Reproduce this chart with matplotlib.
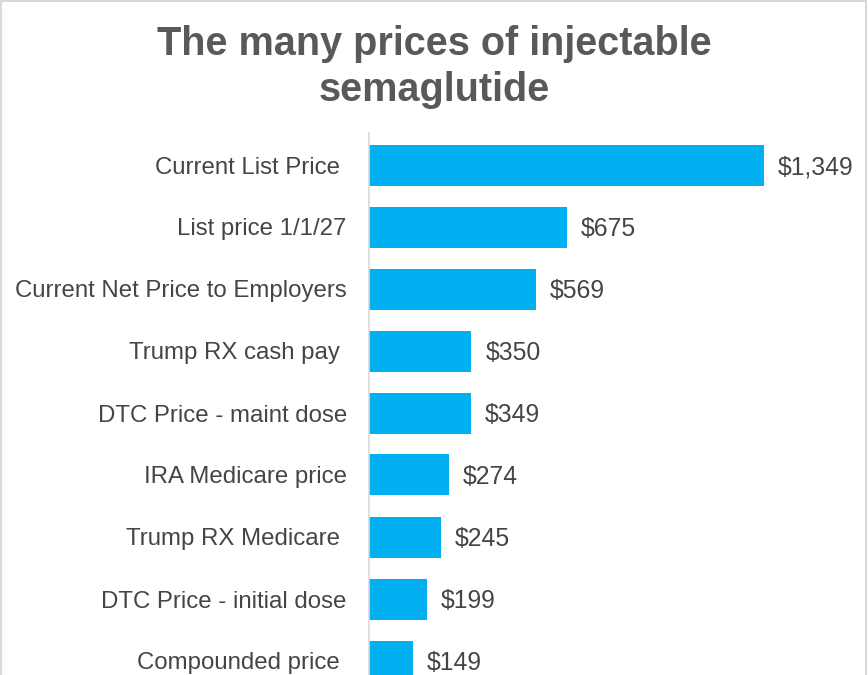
import matplotlib.pyplot as plt
from matplotlib.patches import Rectangle

# Chart data
categories = [
    "Current List Price ",
    "List price 1/1/27",
    "Current Net Price to Employers",
    "Trump RX cash pay ",
    "DTC Price - maint dose",
    "IRA Medicare price",
    "Trump RX Medicare ",
    "DTC Price - initial dose",
    "Compounded price ",
]
prices = [1349, 675, 569, 350, 349, 274, 245, 199, 149]
value_labels = ["$1,349", "$675", "$569", "$350", "$349", "$274", "$245", "$199", "$149"]
title = "The many prices of injectable\nsemaglutide"

bar_color = "#00B0F0"
text_color = "#454545"
title_color = "#595959"

plt.rcParams['font.family'] = ['Liberation Sans', 'DejaVu Sans']

W, H = 868, 675
fig = plt.figure(figsize=(W / 100, H / 100), dpi=100)

# axes in pixel terms: left edge at x=369, top at y=133, runs off the bottom
left_px, right_px, top_px = 369, 866, 133
ax = fig.add_axes([left_px / W, 0, (right_px - left_px) / W, 1 - top_px / H])

px_per_dollar = 395 / 1349
ax.set_xlim(0, (right_px - left_px) / px_per_dollar)
first_center, step = 165, 62
ax.set_ylim((H - first_center) / step, (top_px - first_center) / step)

y = list(range(len(categories)))
ax.barh(y, prices, height=41 / step, color=bar_color)

for yi, p, lab in zip(y, prices, value_labels):
    ax.annotate(lab, (p, yi), xytext=(10, -1.5), textcoords="offset points",
                va="center", ha="left", fontsize=17.8, color=text_color)

ax.set_yticks(y)
ax.set_yticklabels(categories, fontsize=17.3, color=text_color)
ax.tick_params(axis="y", length=0, pad=16)
ax.set_xticks([])

for s in ["top", "right", "bottom"]:
    ax.spines[s].set_visible(False)
ax.spines["left"].set_color("#d9d9d9")
ax.spines["left"].set_linewidth(1.2)

fig.text(0.5, 1 - 67 / H, title, ha="center", va="center", fontsize=28.5,
         fontweight="bold", color=title_color, linespacing=1.28)

# light gray chart-area border
fig.patches.append(Rectangle((1 / W, -0.05), (W - 3) / W, 1.05 - 1.5 / H,
                             transform=fig.transFigure, fill=False,
                             edgecolor="#d9d9d9", linewidth=1.5))

fig.savefig("out.png", dpi=100)
